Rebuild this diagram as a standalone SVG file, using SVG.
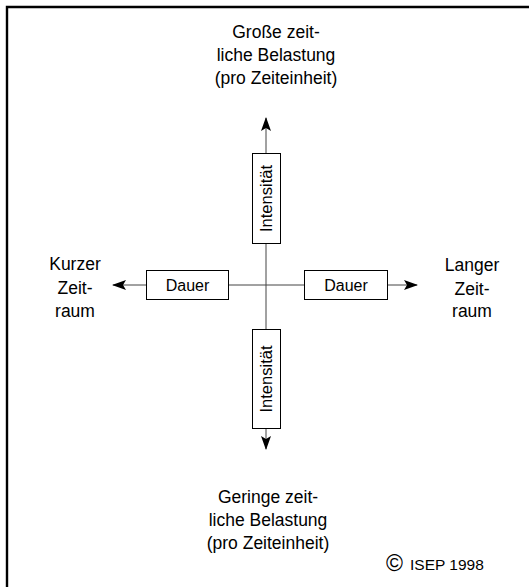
<svg xmlns="http://www.w3.org/2000/svg" width="529" height="587" viewBox="0 0 529 587">
  <style>
    text { font-family: "Liberation Sans", Arial, sans-serif; fill: #000; stroke: none; }
    .lbl { font-size: 17.5px; text-anchor: middle; }
    .box rect { fill: #fff; stroke: #000; stroke-width: 1; }
    .box text { font-size: 16px; text-anchor: middle; }
    .axis { stroke: #444; stroke-width: 1; fill: none; }
  </style>
  <defs>
    <marker id="arrow" viewBox="0 0 14 10" refX="13" refY="5" markerWidth="14" markerHeight="10" markerUnits="userSpaceOnUse" orient="auto">
      <path d="M0,0 L14,5 L0,10 L3,5 Z" fill="#000"/>
    </marker>
  </defs>
  <rect width="529" height="587" fill="#fff"/>
  <!-- frame: top and left edges -->
  <path d="M7,587 V7 H529" fill="none" stroke="#000" stroke-width="2.4"/>

  <!-- axes -->
  <g id="connectors">
    <line class="axis" x1="266" y1="285" x2="266" y2="118" marker-end="url(#arrow)"/>
    <line class="axis" x1="266" y1="285" x2="266" y2="449" marker-end="url(#arrow)"/>
    <line class="axis" x1="266" y1="285" x2="113" y2="285" marker-end="url(#arrow)"/>
    <line class="axis" x1="266" y1="285" x2="417" y2="285" marker-end="url(#arrow)"/>
  </g>

  <g id="intensity-up" class="box">
    <rect x="252.5" y="153.5" width="28" height="90"/>
    <text transform="translate(272,198.5) rotate(-90)" style="font-size:16.5px">Intensität</text>
  </g>
  <g id="intensity-down" class="box">
    <rect x="252.5" y="329.5" width="28" height="99"/>
    <text transform="translate(272,379) rotate(-90)" style="font-size:16.5px">Intensität</text>
  </g>
  <g id="duration-left" class="box">
    <rect x="146.5" y="270.5" width="82" height="29"/>
    <text x="187.5" y="291">Dauer</text>
  </g>
  <g id="duration-right" class="box">
    <rect x="304.5" y="270.5" width="83" height="29"/>
    <text x="346" y="291">Dauer</text>
  </g>

  <g id="label-top">
    <text class="lbl" x="276" y="38">Große zeit-</text>
    <text class="lbl" x="276" y="61">liche Belastung</text>
    <text class="lbl" x="276" y="84">(pro Zeiteinheit)</text>
  </g>
  <g id="label-bottom">
    <text class="lbl" x="268" y="503">Geringe zeit-</text>
    <text class="lbl" x="268" y="526">liche Belastung</text>
    <text class="lbl" x="268" y="549">(pro Zeiteinheit)</text>
  </g>
  <g id="label-left">
    <text class="lbl" x="75" y="270">Kurzer</text>
    <text class="lbl" x="75" y="294">Zeit-</text>
    <text class="lbl" x="75" y="317">raum</text>
  </g>
  <g id="label-right">
    <text class="lbl" x="472" y="271">Langer</text>
    <text class="lbl" x="472" y="295">Zeit-</text>
    <text class="lbl" x="472" y="317">raum</text>
  </g>

  <g id="copyright">
    <text x="386" y="571" style="font-size:23px">©</text>
    <text x="410" y="570" style="font-size:15.5px">ISEP 1998</text>
  </g>
</svg>
